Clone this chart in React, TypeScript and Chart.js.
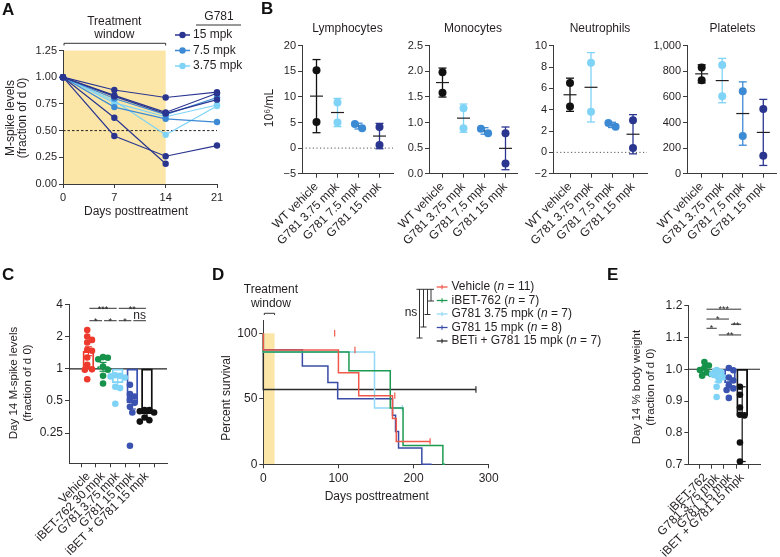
import React, { useEffect, useRef } from 'react';
import { Chart, registerables } from 'chart.js';

Chart.register(...registerables);

const W = 780;
const H = 557;
const FONT = "'Liberation Sans', Arial, Helvetica, sans-serif";
const INK = '#231f20';
const AXC = '#3a3a3a';
Chart.defaults.font.family = FONT;
Chart.defaults.color = INK;

const NAVY = '#2a3590';
const MID = '#3d8ad4';
const LIGHT = '#7fd3f6';
const RED = '#ee3a2d';
const GREEN = '#16924a';
const ROYAL = '#3a52b0';
const BLACK = '#111111';
const YELLOW = '#fbe6a7';

// ===== Panel A =====
const A_DAYS = [0, 7, 14, 21];
const A_DOSES = ['15 mpk', '7.5 mpk', '3.75 mpk'];
const A_DOSE_COLORS = [NAVY, MID, LIGHT];
const A_MOUSE_DOSE = [0, 0, 0, 0, 0, 1, 1, 2, 2];
const A_MOUSE_LEVELS: (number | null)[][] = [
  [1.0, 0.88, 0.81, 0.86],
  [1.0, 0.83, 0.67, 0.85],
  [1.0, 0.82, 0.66, 0.79],
  [1.0, 0.62, 0.19, null],
  [1.0, 0.45, 0.26, 0.36],
  [1.0, 0.72, 0.61, 0.58],
  [1.0, 0.8, 0.65, 0.81],
  [1.0, 0.78, 0.46, 0.73],
  [1.0, 0.76, 0.63, 0.74],
];
const A_Y_TICKS = [0, 0.25, 0.5, 0.75, 1, 1.25];
const A_X_TICKS = [0, 7, 14, 21];
const A_WINDOW_END = 14;

// ===== Panel B =====
const B_GROUPS = ['WT vehicle', 'G781 3.75 mpk', 'G781 7.5 mpk', 'G781 15 mpk'];
const B_COLORS = [BLACK, LIGHT, MID, NAVY];
const LYMPH = [[15.2, 5.1], [8.9, 5.0], [3.9, 4.7], [4.1, 0.6]];
const MONO = [[1.98, 1.58], [1.28, 0.89], [0.79, 0.88], [0.79, 0.2]];
const NEUT = [[6.5, 4.3], [8.4, 3.8], [2.4, 2.75], [3.0, 0.4]];
const PLAT = [[830, 730], [850, 605], [645, 295], [505, 140]];
const LYMPH_TICKS = [-5, 0, 5, 10, 15, 20];
const MONO_TICKS = [0, 0.5, 1, 1.5, 2, 2.5];
const NEUT_TICKS = [-2, 0, 2, 4, 6, 8, 10];
const PLAT_TICKS = [0, 200, 400, 600, 800, 1000];

// ===== Panel C =====
const C_GROUPS = ['Vehicle', 'iBET-762 30 mpk', 'G781 3.75 mpk', 'G781 15 mpk', 'iBET + G781 15 mpk'];
const C_COLORS = [RED, GREEN, LIGHT, ROYAL, BLACK];
const C_VEHICLE = [2.31, 2.01, 1.87, 1.77, 1.51, 1.48, 1.28, 1.09, 0.99, 0.98, 0.8];
const C_IBET = [1.29, 1.27, 1.23, 1.05, 0.98, 0.86, 0.73];
const C_G781_LOW = [0.87, 0.86, 0.85, 0.83, 0.68, 0.66, 0.47];
const C_G781_HIGH = [0.71, 0.58, 0.55, 0.51, 0.48, 0.44, 0.39, 0.19];
const C_COMBO = [0.41, 0.41, 0.4, 0.39, 0.35, 0.33, 0.32];
const C_MEAN = [1.46, 1.05, 0.74, 0.48, 0.38];
const C_ERR_LO = [1.33, 0.95, 0.65, 0.42, 0.35];
const C_ERR_HI = [1.61, 1.15, 0.84, 0.55, 0.41];
const C_Y_TICKS = [0.25, 0.5, 1, 2, 4];
const C_SIG = [
  { a: 0, b: 2, y: 3.7, label: '***' },
  { a: 2, b: 4, y: 3.7, label: '**' },
  { a: 0, b: 1, y: 2.83, label: '*' },
  { a: 1, b: 2, y: 2.83, label: '*' },
  { a: 2, b: 3, y: 2.83, label: '*' },
  { a: 3, b: 4, y: 2.83, label: 'ns' },
];

// ===== Panel D =====
const D_GROUPS = ['Vehicle', 'iBET-762', 'G781 3.75 mpk', 'G781 15 mpk', 'BETi + G781 15 mpk'];
const D_N = [11, 7, 7, 8, 7];
const D_COLORS = ['#f0584a', '#1d9a52', '#93d8f6', '#3a4ca6', '#2b2b2b'];
const D_VEHICLE_DAYS = [0, 100, 127, 172, 177, 186, 222];
const D_VEHICLE_SURV = [100, 87.3, 69.8, 52.4, 34.9, 17.5, 17.5];
const D_VEHICLE_CENSOR = [95, 122, 175, 222];
const D_IBET_DAYS = [0, 114, 169, 186, 239, 242];
const D_IBET_SURV = [100, 85.7, 71.4, 42.9, 14.3, 0];
const D_IBET_CENSOR: number[] = [];
const D_LOW_DAYS = [0, 148, 155, 186];
const D_LOW_SURV = [100, 85.7, 42.9, 42.9];
const D_LOW_CENSOR = [172, 185];
const D_HIGH_DAYS = [0, 52, 86, 99, 172, 176, 180, 211, 224];
const D_HIGH_SURV = [100, 87.5, 75, 62.5, 50, 37.5, 25, 12.5, 0];
const D_HIGH_CENSOR: number[] = [];
const D_COMBO_DAYS = [0, 15, 283];
const D_COMBO_SURV = [100, 57.1, 57.1];
const D_COMBO_CENSOR = [283];
const D_X_TICKS = [0, 100, 200, 300];
const D_Y_TICKS = [0, 50, 100];
const D_WINDOW_END = 15;

// ===== Panel E =====
const E_GROUPS = ['iBET-762', 'G781 3.75 mpk', 'G781 15 mpk', 'iBET + G781 15 mpk'];
const E_COLORS = [GREEN, LIGHT, ROYAL, BLACK];
const E_IBET = [1.023, 1.012, 1.005, 0.998, 0.99, 0.985, 0.98];
const E_G781_LOW = [0.998, 0.99, 0.985, 0.98, 0.975, 0.965, 0.945, 0.913];
const E_G781_HIGH = [1.004, 0.997, 0.974, 0.965, 0.95, 0.94, 0.935, 0.91];
const E_COMBO = [0.945, 0.92, 0.88, 0.857, 0.855, 0.77, 0.71];
const E_MEAN = [0.998, 0.973, 0.958, 0.855];
const E_ERR_LO = [0.99, 0.96, 0.945, 0.71];
const E_ERR_HI = [1.006, 0.985, 0.972, 0.945];
const E_Y_TICKS = [0.7, 0.8, 0.9, 1.0, 1.1, 1.2];
const E_SIG = [
  { a: 0, b: 3, y: 1.189, label: '***' },
  { a: 0, b: 2, y: 1.158, label: '*' },
  { a: 2, b: 3, y: 1.1415, label: '**' },
  { a: 0, b: 1, y: 1.129, label: '*' },
  { a: 1, b: 3, y: 1.108, label: '**' },
];

// ================= helpers =================
type Area = { l: number; t: number; r: number; b: number };

function text(ctx: any, s: string, x: number, y: number, o: any = {}) {
  ctx.save();
  ctx.translate(x, y);
  if (o.rot) ctx.rotate(o.rot);
  ctx.font = `${o.italic ? 'italic ' : ''}${o.bold ? 'bold ' : ''}${o.size || 12}px ${FONT}`;
  ctx.fillStyle = o.color || INK;
  ctx.textAlign = o.align || 'center';
  ctx.textBaseline = o.base || 'middle';
  ctx.fillText(s, 0, 0);
  ctx.restore();
}

function path(ctx: any, pts: number[][], color = AXC, w = 1, dash: number[] = []) {
  ctx.save();
  ctx.strokeStyle = color;
  ctx.lineWidth = w;
  ctx.setLineDash(dash);
  ctx.beginPath();
  pts.forEach((p, i) => (i ? ctx.lineTo(p[0], p[1]) : ctx.moveTo(p[0], p[1])));
  ctx.stroke();
  ctx.restore();
}

function dot(ctx: any, x: number, y: number, r: number, c: string) {
  ctx.save();
  ctx.fillStyle = c;
  ctx.beginPath();
  ctx.arc(x, y, r, 0, Math.PI * 2);
  ctx.fill();
  ctx.restore();
}

function axis(min: number, max: number, ticks: number[], fmt: (v: number) => string, o: any = {}) {
  return {
    type: o.type || 'linear',
    min,
    max,
    afterBuildTicks: (s: any) => {
      s.ticks = ticks.map((v) => ({ value: v }));
    },
    ticks: {
      autoSkip: false,
      maxRotation: o.rot || 0,
      minRotation: o.rot || 0,
      padding: o.pad ?? 2,
      color: INK,
      font: { family: FONT, size: o.size || 11 },
      callback: (v: any) => fmt(Number(v)),
    },
    grid: { drawOnChartArea: false, drawTicks: true, tickLength: 4, color: AXC, lineWidth: 1 },
    border: { display: true, color: AXC, width: 1 },
  };
}

function config(area: Area, x: any, y: any, datasets: any[], plugins: any[]) {
  const xh = H - area.b;
  return {
    type: 'scatter',
    data: { datasets },
    options: {
      responsive: false,
      animation: false,
      events: [],
      layout: { padding: { left: 0, top: area.t, right: W - area.r, bottom: 0 } },
      plugins: { legend: { display: false }, tooltip: { enabled: false }, title: { display: false } },
      scales: {
        x: { ...x, position: 'bottom', afterFit: (s: any) => { s.height = xh; } },
        y: { ...y, position: 'left', afterFit: (s: any) => { s.width = area.l; } },
      },
    },
    plugins,
  };
}

function swarm(values: number[], toPx: (v: number) => number, r: number, spacingPx: number): number[] {
  const idx = values.map((_, i) => i).sort((a, b) => values[b] - values[a]);
  const placed: { x: number; y: number }[] = [];
  const out: number[] = new Array(values.length).fill(0);
  const step = r * 0.9;
  const minD = r * 1.7;
  idx.forEach((i) => {
    const y = toPx(values[i]);
    let chosen = 0;
    for (let k = 0; k < 24; k++) {
      const c = k === 0 ? 0 : (k % 2 ? 1 : -1) * Math.ceil(k / 2) * step;
      if (placed.every((p) => Math.hypot(p.x - c, p.y - y) >= minD)) {
        chosen = c;
        break;
      }
    }
    placed.push({ x: chosen, y });
    out[i] = chosen;
  });
  const mid = (Math.min(...out) + Math.max(...out)) / 2;
  return out.map((o) => (o - mid) / spacingPx);
}

const minus = (v: number) => (v < 0 ? '\u2212' + Math.abs(v) : String(v));

// ================= Panel A =================
function chartA() {
  const area = { l: 63, t: 50.5, r: 217, b: 184 };
  const datasets = A_MOUSE_LEVELS.map((lv, m) => {
    const c = A_DOSE_COLORS[A_MOUSE_DOSE[m]];
    return {
      type: 'line',
      data: A_DAYS.map((d, j) => ({ x: d, y: lv[j] })).filter((p) => p.y !== null),
      borderColor: c,
      backgroundColor: c,
      borderWidth: 1.2,
      pointRadius: 3.2,
      pointBorderWidth: 0,
      pointBackgroundColor: c,
      clip: false,
      tension: 0,
    };
  });
  const plugin = {
    id: 'panelA',
    beforeDraw(ch: any) {
      const { ctx, chartArea: ca, scales } = ch;
      const x0 = scales.x.getPixelForValue(0);
      const x1 = scales.x.getPixelForValue(A_WINDOW_END);
      ctx.save();
      ctx.fillStyle = YELLOW;
      ctx.fillRect(x0, ca.top, x1 - x0, ca.bottom - ca.top);
      ctx.restore();
    },
    beforeDatasetsDraw(ch: any) {
      const { ctx, chartArea: ca, scales } = ch;
      const yy = scales.y.getPixelForValue(0.5);
      path(ctx, [[ca.left, yy], [ca.right, yy]], '#222', 1, [2.5, 2]);
    },
    afterDraw(ch: any) {
      const { ctx, scales } = ch;
      const x0 = scales.x.getPixelForValue(0);
      const x1 = scales.x.getPixelForValue(A_WINDOW_END);
      const cx = (x0 + x1) / 2;
      text(ctx, 'Treatment', cx, 21.5);
      text(ctx, 'window', cx, 35);
      path(ctx, [[x0 + 1, 45.5], [x0 + 1, 43.3], [x1, 43.3], [x1, 45.5]], '#333', 1);
      text(ctx, 'G781', 219, 16.5);
      path(ctx, [[196, 25], [241, 25]], '#333', 1);
      const rows = [35, 50.5, 66];
      A_DOSES.forEach((d, i) => {
        path(ctx, [[175, rows[i]], [190, rows[i]]], A_DOSE_COLORS[i], 1.5);
        dot(ctx, 182.5, rows[i], 3.2, A_DOSE_COLORS[i]);
        text(ctx, d, 193, rows[i], { align: 'left' });
      });
      text(ctx, 'M-spike levels', 11, 118, { rot: -Math.PI / 2 });
      text(ctx, '(fraction of d 0)', 22.5, 118, { rot: -Math.PI / 2 });
      text(ctx, 'Days posttreatment', 136, 212);
    },
  };
  return config(
    area,
    axis(0, 21, A_X_TICKS, (v) => String(v), { pad: 3 }),
    axis(0, 1.25, A_Y_TICKS, (v) => v.toFixed(2)),
    datasets,
    [plugin]
  );
}

// ================= Panel B =================
function chartB(title: string, area: Area, first: number, pts: number[][], min: number, max: number, ticks: number[], fmt: (v: number) => string, zero: boolean, ytitle?: string) {
  const sp = 21;
  const pxu = (area.b - area.t) / (max - min);
  const data: any[] = [];
  const colors: string[] = [];
  pts.forEach((vals, g) => {
    const offs = swarm(vals, (v) => v * pxu, 4, sp);
    vals.forEach((v, k) => {
      data.push({ x: g + offs[k], y: v });
      colors.push(B_COLORS[g]);
    });
  });
  const stats = pts.map((vals) => {
    const m = (vals[0] + vals[1]) / 2;
    const sd = Math.abs(vals[0] - vals[1]) / Math.SQRT2;
    return { m, lo: m - sd, hi: m + sd };
  });
  const plugin = {
    id: 'panelB' + title,
    beforeDatasetsDraw(ch: any) {
      const { ctx, chartArea: ca, scales } = ch;
      if (zero) {
        const y0 = scales.y.getPixelForValue(0);
        path(ctx, [[ca.left, y0], [ca.right, y0]], '#555', 1, [1.2, 2.4]);
      }
      stats.forEach((s, g) => {
        const x = scales.x.getPixelForValue(g);
        const yl = scales.y.getPixelForValue(s.lo);
        const yh = scales.y.getPixelForValue(s.hi);
        const ym = scales.y.getPixelForValue(s.m);
        const c = B_COLORS[g];
        path(ctx, [[x, yl], [x, yh]], c, 1.3);
        path(ctx, [[x - 4, yl], [x + 4, yl]], c, 1.3);
        path(ctx, [[x - 4, yh], [x + 4, yh]], c, 1.3);
        path(ctx, [[x - 6.5, ym], [x + 6.5, ym]], INK, 1.2);
      });
    },
    afterDraw(ch: any) {
      const { ctx } = ch;
      text(ctx, title, (area.l + area.r) / 2, 29);
      if (ytitle) text(ctx, ytitle, 270, 108, { rot: -Math.PI / 2 });
    },
  };
  return config(
    area,
    axis(-(first - area.l) / sp, (area.r - first) / sp, [0, 1, 2, 3], (v) => B_GROUPS[v], { rot: 45, size: 12, pad: 2 }),
    axis(min, max, ticks, fmt),
    [
      {
        type: 'scatter',
        data,
        pointRadius: 4,
        pointBorderWidth: 0,
        pointBackgroundColor: colors,
        clip: false,
      },
    ],
    [plugin]
  );
}

// ================= Panels C / E =================
function chartBars(o: any) {
  const { id, area, first, sp, yAxis, toPx, groups, sets, colors, means, lo, hi, sig, ytitle, ytx, yty, r, baseline } = o;
  const data: any[] = [];
  const pc: string[] = [];
  sets.forEach((vals: number[], g: number) => {
    const offs = swarm(vals, toPx, r, sp);
    vals.forEach((v, k) => {
      data.push({ x: g + offs[k], y: v });
      pc.push(colors[g]);
    });
  });
  const plugin = {
    id,
    beforeDatasetsDraw(ch: any) {
      const { ctx, chartArea: ca, scales } = ch;
      const yb = scales.y.getPixelForValue(baseline);
      path(ctx, [[ca.left, yb], [ca.right, yb]], '#222', 1.1);
      means.forEach((_: number, g: number) => {
        const x = scales.x.getPixelForValue(g);
        const yl = scales.y.getPixelForValue(lo[g]);
        const yh = scales.y.getPixelForValue(hi[g]);
        path(ctx, [[x, yl], [x, yh]], colors[g], 1.2);
        path(ctx, [[x - 3.5, yl], [x + 3.5, yl]], colors[g], 1.2);
        path(ctx, [[x - 3.5, yh], [x + 3.5, yh]], colors[g], 1.2);
      });
    },
    afterDraw(ch: any) {
      const { ctx, scales } = ch;
      sig.forEach((s: any) => {
        const xa = scales.x.getPixelForValue(s.a) + 1;
        const xb = scales.x.getPixelForValue(s.b) - 1;
        const y = scales.y.getPixelForValue(s.y);
        path(ctx, [[xa, y], [xb, y]], '#333', 1);
        if (s.label === 'ns') text(ctx, 'ns', (xa + xb) / 2, y - 1.5, { size: 12, base: 'alphabetic' });
        else text(ctx, s.label, (xa + xb) / 2, y + 3.2, { size: 9, base: 'alphabetic' });
      });
      ytitle.forEach((t: string, i: number) => text(ctx, t, ytx[i], yty, { rot: -Math.PI / 2, size: 11.5 }));
    },
  };
  return config(
    area,
    axis(-(first - area.l) / sp, (area.r - first) / sp, groups.map((_: string, i: number) => i), (v) => groups[v], { rot: 45, size: 12, pad: 2 }),
    yAxis,
    [
      {
        type: 'scatter',
        data,
        pointRadius: r,
        pointBorderWidth: 0,
        pointBackgroundColor: pc,
        clip: false,
      },
      {
        type: 'bar',
        data: means.map((m: number, i: number) => ({ x: i, y: [baseline, m] })),
        borderColor: colors,
        backgroundColor: 'rgba(255,255,255,0)',
        borderWidth: 1.2,
        borderSkipped: false,
        barThickness: 11,
        clip: false,
      },
    ],
    [plugin]
  );
}

function chartC() {
  return chartBars({
    id: 'panelC',
    area: { l: 69, t: 304.7, r: 167, b: 463.3 },
    first: 81,
    sp: 18.3,
    yAxis: axis(0.13, 4, C_Y_TICKS, (v) => String(v), { type: 'logarithmic', size: 12 }),
    toPx: (v: number) => Math.log2(v) * 32.08,
    groups: C_GROUPS,
    sets: [C_VEHICLE, C_IBET, C_G781_LOW, C_G781_HIGH, C_COMBO],
    colors: C_COLORS,
    means: C_MEAN,
    lo: C_ERR_LO,
    hi: C_ERR_HI,
    sig: C_SIG,
    ytitle: ['Day 14 M-spike levels', '(fraction of d 0)'],
    ytx: [14, 28],
    yty: 383,
    r: 3.3,
    baseline: 1,
  });
}

function chartE() {
  return chartBars({
    id: 'panelE',
    area: { l: 688.3, t: 305.7, r: 760, b: 464.7 },
    first: 699.3,
    sp: 16.3,
    yAxis: axis(0.7, 1.2, E_Y_TICKS, (v) => v.toFixed(1), { size: 12 }),
    toPx: (v: number) => v * 318,
    groups: E_GROUPS,
    sets: [E_IBET, E_G781_LOW, E_G781_HIGH, E_COMBO],
    colors: E_COLORS,
    means: E_MEAN,
    lo: E_ERR_LO,
    hi: E_ERR_HI,
    sig: E_SIG,
    ytitle: ['Day 14 % body weight', '(fraction of d 0)'],
    ytx: [637.3, 650.7],
    yty: 387,
    r: 3.3,
    baseline: 1,
  });
}

// ================= Panel D =================
function chartD() {
  const area = { l: 263.3, t: 320.2, r: 488.7, b: 464.3 };
  const curves = [
    [D_VEHICLE_DAYS, D_VEHICLE_SURV, D_VEHICLE_CENSOR],
    [D_IBET_DAYS, D_IBET_SURV, D_IBET_CENSOR],
    [D_LOW_DAYS, D_LOW_SURV, D_LOW_CENSOR],
    [D_HIGH_DAYS, D_HIGH_SURV, D_HIGH_CENSOR],
    [D_COMBO_DAYS, D_COMBO_SURV, D_COMBO_CENSOR],
  ];
  const stepAt = (ts: number[], ss: number[], t: number) => {
    let s = ss[0];
    ts.forEach((d, i) => { if (d <= t) s = ss[i]; });
    return s;
  };
  const datasets: any[] = [];
  curves.forEach(([ts, ss, cs], g) => {
    const c = D_COLORS[g];
    datasets.push({
      type: 'line',
      data: ts.map((t, i) => ({ x: t, y: ss[i] })),
      stepped: 'after',
      borderColor: c,
      borderWidth: 1.5,
      pointRadius: 0,
      clip: false,
    });
    if (cs.length) {
      datasets.push({
        type: 'scatter',
        data: cs.map((t) => ({ x: t, y: stepAt(ts, ss, t) })),
        pointStyle: 'line',
        rotation: 90,
        pointRadius: 3.2,
        pointBorderColor: c,
        pointBorderWidth: 1.2,
        clip: false,
      });
    }
  });
  const plugin = {
    id: 'panelD',
    beforeDraw(ch: any) {
      const { ctx, scales } = ch;
      const x0 = scales.x.getPixelForValue(0);
      const x1 = scales.x.getPixelForValue(D_WINDOW_END);
      const yt = scales.y.getPixelForValue(100);
      const yb = scales.y.getPixelForValue(0);
      ctx.save();
      ctx.fillStyle = YELLOW;
      ctx.fillRect(x0, yt, x1 - x0, yb - yt);
      ctx.restore();
    },
    afterDraw(ch: any) {
      const { ctx, scales } = ch;
      const x0 = scales.x.getPixelForValue(0);
      const x1 = scales.x.getPixelForValue(D_WINDOW_END);
      const cx = (x0 + x1) / 2 + 2;
      text(ctx, 'Treatment', cx, 290);
      text(ctx, 'window', cx, 303.3);
      path(ctx, [[x0 + 1, 315], [x0 + 1, 313.3], [x1, 313.3], [x1, 315]], '#333', 1);
      const rows = [287, 300.5, 314, 327.5, 341];
      D_GROUPS.forEach((name, i) => {
        const c = D_COLORS[i];
        path(ctx, [[436.7, rows[i]], [447.5, rows[i]]], c, 1.3);
        path(ctx, [[442, rows[i] - 2.2], [442, rows[i] + 2.2]], c, 1.1);
        ctx.save();
        ctx.fillStyle = INK;
        ctx.textAlign = 'left';
        ctx.textBaseline = 'middle';
        let xx = 451.5;
        const parts: [string, boolean][] = [[name + ' (', false], ['n', true], [' = ' + D_N[i] + ')', false]];
        parts.forEach(([s, it]) => {
          ctx.font = `${it ? 'italic ' : ''}12px ${FONT}`;
          ctx.fillText(s, xx, rows[i]);
          xx += ctx.measureText(s).width;
        });
        ctx.restore();
      });
      const top = 289.3;
      path(ctx, [[416.5, top], [434, top]], '#333', 1);
      const vx = [419.5, 423.5, 427.5, 431];
      const vb = [338, 327, 314.5, 301];
      vx.forEach((x, i) => {
        path(ctx, [[x, top], [x, vb[i]]], '#333', 1);
        path(ctx, [[x - 3, vb[i]], [x + 3, vb[i]]], '#333', 1);
      });
      text(ctx, 'ns', 411, 312.5);
      text(ctx, 'Percent survival', 226.7, 398, { rot: -Math.PI / 2 });
      text(ctx, 'Days posttreatment', 376.7, 497);
    },
  };
  return config(
    area,
    axis(0, 300, D_X_TICKS, (v) => String(v), { size: 12, pad: 3 }),
    axis(0, 110, D_Y_TICKS, (v) => String(v), { size: 12 }),
    datasets,
    [plugin]
  );
}

const MAKERS = [
  chartA,
  () => chartB('Lymphocytes', { l: 302, t: 45.7, r: 393, b: 173.7 }, 316.5, LYMPH, -5, 20, LYMPH_TICKS, minus, true, '10\u2076/mL'),
  () => chartB('Monocytes', { l: 429, t: 45.7, r: 517, b: 173.7 }, 442.5, MONO, 0, 2.5, MONO_TICKS, (v) => v.toFixed(1), false),
  () => chartB('Neutrophils', { l: 553, t: 45.7, r: 647, b: 173.7 }, 570, NEUT, -2, 10, NEUT_TICKS, minus, true),
  () => chartB('Platelets', { l: 687, t: 45.7, r: 778, b: 173.7 }, 702, PLAT, 0, 1000, PLAT_TICKS, (v) => v.toLocaleString('en-US'), false),
  chartC,
  chartD,
  chartE,
];

const LETTERS = [
  { s: 'A', x: 2, y: 15 },
  { s: 'B', x: 261, y: 14 },
  { s: 'C', x: 2, y: 280 },
  { s: 'D', x: 212, y: 280 },
  { s: 'E', x: 607, y: 280 },
];

function ChartCanvas({ make }: { make: () => any }) {
  const ref = useRef<HTMLCanvasElement | null>(null);
  useEffect(() => {
    if (!ref.current) return;
    const c = new Chart(ref.current, make());
    return () => c.destroy();
  }, [make]);
  return <canvas ref={ref} width={W} height={H} style={{ position: 'absolute', left: 0, top: 0 }} />;
}

function Letters() {
  const ref = useRef<HTMLCanvasElement | null>(null);
  useEffect(() => {
    const ctx = ref.current?.getContext('2d');
    if (!ctx) return;
    LETTERS.forEach((l) => text(ctx, l.s, l.x, l.y, { bold: true, size: 17, align: 'left', base: 'alphabetic', color: '#111' }));
  }, []);
  return <canvas ref={ref} width={W} height={H} style={{ position: 'absolute', left: 0, top: 0 }} />;
}

export default function App() {
  return (
    <div style={{ position: 'absolute', left: 0, top: 0, width: W, height: H, background: '#fff', overflow: 'hidden' }}>
      {MAKERS.map((m, i) => (
        <ChartCanvas key={i} make={m} />
      ))}
      <Letters />
    </div>
  );
}
